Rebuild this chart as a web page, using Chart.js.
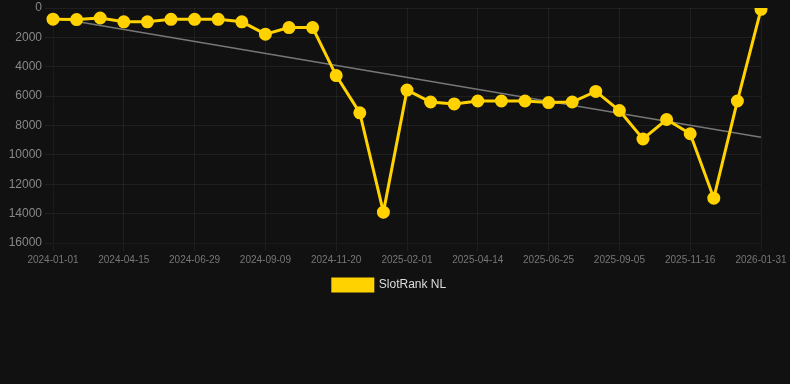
<!DOCTYPE html>
<html>
<head>
<meta charset="utf-8">
<style>
  html, body { margin: 0; padding: 0; background: #111111; }
  #chart { position: relative; width: 790px; height: 301px; }
</style>
<script src="https://cdnjs.cloudflare.com/ajax/libs/Chart.js/4.4.1/chart.umd.min.js"></script>
</head>
<body>
<div id="chart"><canvas id="c"></canvas></div>
<script>
const dates = [
  "2024-01-01", "2024-02-05", "2024-03-11", "2024-04-15", "2024-05-10", "2024-06-04",
  "2024-06-29", "2024-07-23", "2024-08-16", "2024-09-09", "2024-10-03", "2024-10-27",
  "2024-11-20", "2024-12-14", "2025-01-08", "2025-02-01", "2025-02-25", "2025-03-21",
  "2025-04-14", "2025-05-08", "2025-06-01", "2025-06-25", "2025-07-19", "2025-08-12",
  "2025-09-05", "2025-09-29", "2025-10-23", "2025-11-16", "2025-12-11", "2026-01-05",
  "2026-01-31"
];
const slotRankNL = [
  760, 790, 680, 940, 940, 770, 770, 770, 940, 1780, 1330, 1330,
  4600, 7140, 13900, 5590, 6400, 6530, 6330, 6330, 6330, 6440, 6400, 5680,
  6980, 8920, 7590, 8560, 12950, 6330, 90
];
// trend line end values
const trendStart = 650;
const trendEnd = 8800;
const yTicks = { min: 0, max: 16000, step: 2000 };

const trend = dates.map((d, i) => i === 0 ? trendStart : (i === dates.length - 1 ? trendEnd : null));

new Chart(document.getElementById("c"), {
  type: "line",
  data: {
    labels: dates,
    datasets: [
      {
        label: "SlotRank NL",
        data: slotRankNL,
        borderColor: "#FFD200",
        backgroundColor: "#FFD200",
        borderWidth: 3,
        pointRadius: 5,
        pointHoverRadius: 5,
        pointBackgroundColor: "#FFD200",
        pointBorderColor: "#FFD200",
        tension: 0,
        order: 1,
      },
      {
        label: "trend",
        data: trend,
        spanGaps: true,
        borderColor: "#777777",
        borderWidth: 1.5,
        pointRadius: 0,
        order: 2,
      },
    ],
  },
  options: {
    animation: false,
    responsive: true,
    maintainAspectRatio: false,
    layout: { padding: { top: 6, right: 20, left: 9, bottom: 0 } },
    plugins: {
      tooltip: { enabled: false },
      legend: {
        position: "bottom",
        labels: {
          color: "#dddddd",
          font: { family: "Liberation Sans, Arial", size: 12 },
          boxWidth: 40,
          boxHeight: 12,
          filter: (item) => item.text !== "trend",
        },
      },
    },
    scales: {
      x: {
        afterFit: (scale) => { scale.paddingRight = 29; },
        grid: {
          color: (ctx) => (ctx.index % 3 === 0 ? "rgba(255,255,255,0.06)" : "rgba(0,0,0,0)"),
        },
        ticks: {
          autoSkip: false,
          maxRotation: 0,
          color: "#777777",
          font: { family: "Liberation Sans, Arial", size: 10 },
          callback: function (value, index) {
            return index % 3 === 0 ? this.getLabelForValue(value) : "";
          },
        },
      },
      y: {
        reverse: true,
        min: yTicks.min,
        max: yTicks.max,
        afterFit: (scale) => { scale.width = 44; scale.paddingTop = 0; },
        grid: { color: "rgba(255,255,255,0.06)" },
        ticks: {
          stepSize: yTicks.step,
          color: "#888888",
          font: { family: "Liberation Sans, Arial", size: 12 },
          callback: (v) => String(v),
        },
      },
    },
  },
});
</script>
</body>
</html>
